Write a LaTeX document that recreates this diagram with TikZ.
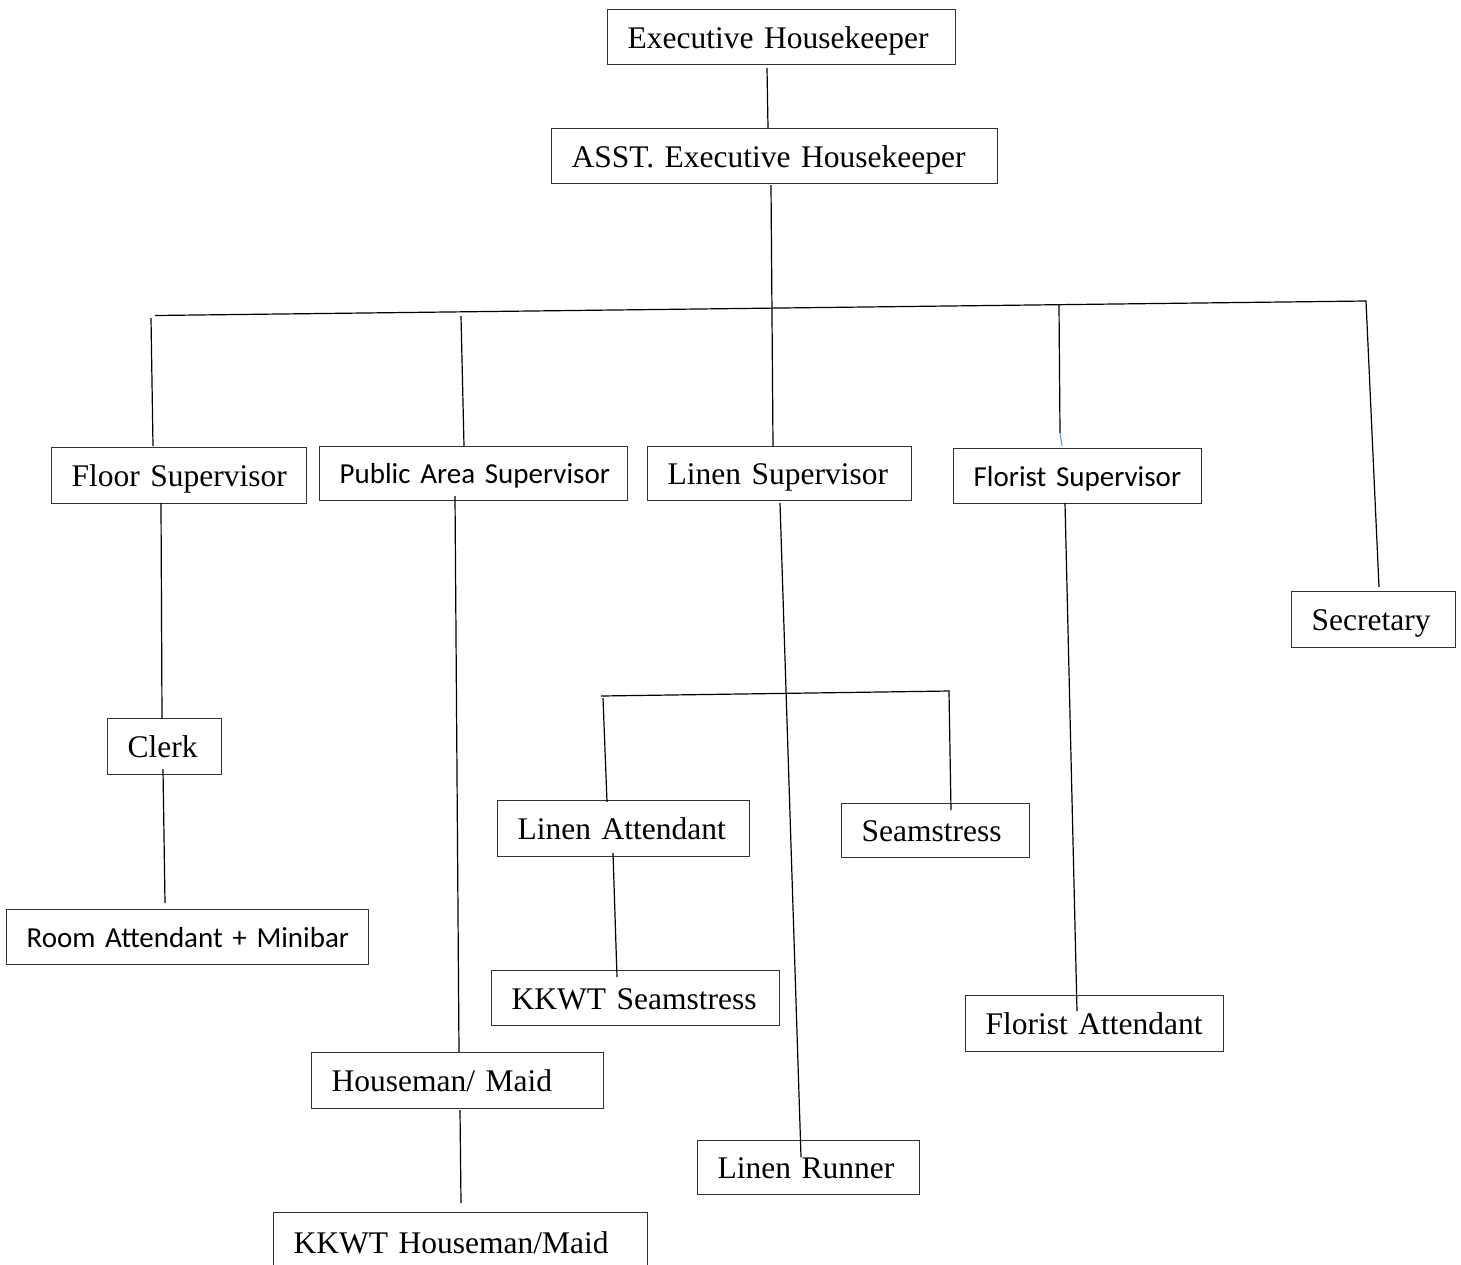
\documentclass[tikz,border=0pt]{standalone}
\usepackage{fontspec}
\setmainfont{Liberation Serif}
\newfontfamily\carlfont{Carlito}
\begin{document}
\begin{tikzpicture}[x=1pt,y=-1pt,
  box/.style={draw=black!80, line width=1.3pt, anchor=north west, inner xsep=0pt, inner ysep=0pt,
    align=left, execute at begin node={\hspace*{20pt}}},
  tms/.style={box, font=\fontsize{31.5}{36}\selectfont, text height=22pt, text depth=0pt},
  cal/.style={box, font=\carlfont\fontsize{29}{34}\selectfont, text height=20pt, text depth=0pt},
  link/.style={draw=black, line width=1.2pt},
  bluelink/.style={draw=cyan!60!blue!60, line width=1.2pt}]
\useasboundingbox (0,0) rectangle (1461,1264);
\clip (0,0) rectangle (1461,1264);

% boxes
\node[tms, text width=348pt, minimum height=55pt] (exec) at (607,9) {Executive Housekeeper};
\node[tms, text width=446pt, minimum height=55pt] (asst) at (551,128) {ASST. Executive Housekeeper};
\node[tms, text width=255pt, minimum height=56pt] (floor) at (51,447) {Floor Supervisor};
\node[cal, text width=308pt, minimum height=54pt] (pub) at (319,446) {Public Area Supervisor};
\node[tms, text width=264pt, minimum height=54pt] (linsup) at (647,446) {Linen Supervisor};
\node[cal, text width=248pt, minimum height=55pt] (flsup) at (953,448) {Florist Supervisor};
\node[tms, text width=164pt, minimum height=56pt] (sec) at (1291,591) {Secretary};
\node[tms, text width=114pt, minimum height=56pt] (clerk) at (107,718) {Clerk};
\node[cal, text width=362pt, minimum height=55pt] (room) at (6,909) {Room Attendant + Minibar};
\node[tms, text width=292pt, minimum height=56pt] (house) at (311,1052) {Houseman/ Maid};
\node[tms, text width=374pt, minimum height=60pt] (kkh) at (273,1212) {KKWT Houseman/Maid};
\node[tms, text width=252pt, minimum height=56pt] (linatt) at (497,800) {Linen Attendant};
\node[tms, text width=188pt, minimum height=54pt] (seam) at (841,803) {Seamstress};
\node[tms, text width=288pt, minimum height=55pt] (kks) at (491,970) {KKWT Seamstress};
\node[tms, text width=222pt, minimum height=54pt] (runner) at (697,1140) {Linen Runner};
\node[tms, text width=258pt, minimum height=56pt] (flatt) at (965,995) {Florist Attendant};

% connector end points
\coordinate (e1) at (767,68);   \coordinate (e2) at (768,128);
\coordinate (a1) at (771,185);  \coordinate (a2) at (773,446);
\coordinate (hL) at (155,315.5); \coordinate (hR) at (1366,301);
\coordinate (f1) at (151,318);  \coordinate (f2) at (153,446);
\coordinate (p1) at (461,316);  \coordinate (p2) at (464,446);
\coordinate (fl1) at (1059,305); \coordinate (fl2) at (1060,433); \coordinate (fl3) at (1062,446);
\coordinate (s2) at (1379,587);
\coordinate (fc1) at (161,503); \coordinate (fc2) at (162,719);
\coordinate (cr1) at (163,769); \coordinate (cr2) at (165,903);
\coordinate (ph1) at (455,496); \coordinate (ph2) at (459,1052);
\coordinate (hk1) at (460,1110); \coordinate (hk2) at (461,1203);
\coordinate (lr1) at (780,503); \coordinate (lr2) at (801,1157);
\coordinate (lb1) at (601,696); \coordinate (lb2) at (950,691);
\coordinate (la1) at (603,698); \coordinate (la2) at (607,802);
\coordinate (se1) at (949,692); \coordinate (se2) at (951,810);
\coordinate (lk1) at (613,853); \coordinate (lk2) at (617,977);
\coordinate (fa1) at (1065,503); \coordinate (fa2) at (1077,1011);

% connectors
\draw[link] (e1) -- (e2);
\draw[link] (a1) -- (a2);
\draw[link] (hL) -- (hR) -- (s2);
\draw[link] (f1) -- (f2);
\draw[link] (p1) -- (p2);
\draw[link] (fl1) -- (fl2);
\draw[bluelink] (fl2) -- (fl3);
\draw[link] (fc1) -- (fc2);
\draw[link] (cr1) -- (cr2);
\draw[link] (ph1) -- (ph2);
\draw[link] (hk1) -- (hk2);
\draw[link] (lr1) -- (lr2);
\draw[link] (lb1) -- (lb2);
\draw[link] (la1) -- (la2);
\draw[link] (se1) -- (se2);
\draw[link] (lk1) -- (lk2);
\draw[link] (fa1) -- (fa2);
\end{tikzpicture}
\end{document}
